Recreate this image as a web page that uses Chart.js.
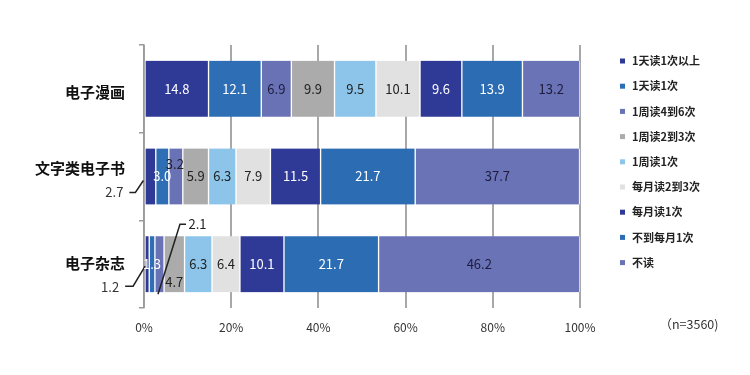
<!DOCTYPE html>
<html>
<head>
<meta charset="utf-8">
<script src="https://cdn.jsdelivr.net/npm/chart.js@4/dist/chart.umd.min.js"></script>
<style>
  html, body { margin: 0; padding: 0; background: #fff; }
  #wrap { width: 750px; height: 375px; }
</style>
</head>
<body>
<div id="wrap"><canvas id="readChart" width="750" height="375"></canvas></div>
<script>
const categories = ['电子漫画', '文字类电子书', '电子杂志'];
const frequencyLabels = ['1天读1次以上', '1天读1次', '1周读4到6次', '1周读2到3次', '1周读1次', '每月读2到3次', '每月读1次', '不到每月1次', '不读'];
const comicValues = [14.8, 12.1, 6.9, 9.9, 9.5, 10.1, 9.6, 13.9, 13.2];
const ebookValues = [2.7, 3.0, 3.2, 5.9, 6.3, 7.9, 11.5, 21.7, 37.7];
const magazineValues = [1.2, 1.3, 2.1, 4.7, 6.3, 6.4, 10.1, 21.7, 46.2];
const xTicks = [0, 20, 40, 60, 80, 100];
const sampleNote = '（n=3560)';

const colors = ['#2F3A97', '#2E6EB5', '#6A72B6', '#ABABAB', '#8DC4EA', '#E1E1E1', '#2F3A97', '#2C6CB3', '#6B73B7'];
const labelColors = ['#fff', '#fff', '#1c1c3c', '#222', '#222', '#222', '#fff', '#fff', '#1c1c3c'];

const FONT = '"Noto Sans CJK SC", "Noto Sans", sans-serif';

// category names sit a little off the bar centre in the original
const categoryShift = [3, -8, -1];

// small segments get moved labels / leader lines (offsets from segment centre)
const labelTweaks = {
  '1-0': { dx: -36, dy: 16, color: '#333', line: [[-21, 16], [-15, 16], [-7, 4]] },
  '1-2': { dx: -1, dy: -12, color: '#222' },
  '2-0': { dx: -37, dy: 23, color: '#333', line: [[-22, 22], [-14, 22], [-2, 2]] },
  '2-2': { dx: 38, dy: -40, color: '#222', line: [[-1.5, 30], [20.5, -40], [26.5, -40]] },
  '2-3': { dx: 0, dy: 18, color: '#222' }
};

const rows = [comicValues, ebookValues, magazineValues];
const datasets = frequencyLabels.map((label, i) => ({
  label: label,
  data: rows.map(r => r[i]),
  backgroundColor: colors[i],
  borderColor: '#fff',
  borderWidth: { left: 1, right: 1, top: 0, bottom: 0 },
  borderSkipped: false,
  barThickness: 56
}));

const valueLabels = {
  id: 'valueLabels',
  afterDatasetsDraw(chart) {
    const ctx = chart.ctx;
    ctx.save();
    ctx.font = '13px ' + FONT;
    ctx.textAlign = 'center';
    ctx.textBaseline = 'middle';
    chart.data.datasets.forEach((ds, di) => {
      chart.getDatasetMeta(di).data.forEach((bar, ri) => {
        const v = ds.data[ri];
        const tw = labelTweaks[ri + '-' + di];
        let x = bar.x - (bar.x - bar.base) / 2;
        let y = bar.y;
        if (tw && tw.line) {
          ctx.strokeStyle = '#222';
          ctx.lineWidth = 1.5;
          ctx.beginPath();
          tw.line.forEach((p, k) => {
            if (k === 0) ctx.moveTo(x + p[0], y + p[1]);
            else ctx.lineTo(x + p[0], y + p[1]);
          });
          ctx.stroke();
        }
        ctx.fillStyle = tw ? tw.color : labelColors[di];
        ctx.fillText(v.toFixed(1), x + (tw ? tw.dx : 0), y + (tw ? tw.dy : 0));
      });
    });

    // category names
    const yScale = chart.scales.y;
    ctx.font = 'bold 15px ' + FONT;
    ctx.fillStyle = '#111';
    ctx.textAlign = 'right';
    categories.forEach((c, i) => {
      ctx.fillText(c, 125, yScale.getPixelForValue(i) + categoryShift[i]);
    });
    ctx.restore();
  }
};

const sideLegend = {
  id: 'sideLegend',
  afterDraw(chart) {
    const ctx = chart.ctx;
    ctx.save();
    ctx.font = 'bold 11px ' + FONT;
    ctx.textBaseline = 'middle';
    ctx.textAlign = 'left';
    frequencyLabels.forEach((label, i) => {
      const y = 61 + i * 25.2;
      ctx.fillStyle = colors[i];
      ctx.fillRect(620, y - 2.5, 5, 5);
      ctx.fillStyle = '#222';
      ctx.fillText(label, 632, y);
    });
    ctx.font = '12.5px ' + FONT;
    ctx.fillStyle = '#333';
    ctx.textAlign = 'center';
    ctx.fillText(sampleNote, 689, 324);
    ctx.restore();
  }
};

new Chart(document.getElementById('readChart'), {
  type: 'bar',
  data: { labels: categories, datasets: datasets },
  options: {
    indexAxis: 'y',
    responsive: false,
    animation: false,
    layout: { padding: { top: 45, right: 170, bottom: 0, left: 0 } },
    plugins: {
      legend: { display: false },
      tooltip: { enabled: false }
    },
    scales: {
      x: {
        stacked: true,
        min: 0,
        max: 100,
        afterBuildTicks: (scale) => { scale.ticks = xTicks.map(v => ({ value: v })); },
        afterFit: (scale) => { scale.height = 67; },
        grid: { color: '#A8A8A8', lineWidth: 2, drawTicks: false },
        border: { display: false },
        ticks: {
          padding: 12,
          color: '#333',
          font: { size: 12, family: FONT },
          callback: v => v + '%'
        }
      },
      y: {
        stacked: true,
        afterFit: (scale) => { scale.width = 144; },
        grid: { offset: true, drawOnChartArea: false, color: '#9a9a9a', lineWidth: 1.5, tickLength: 5 },
        border: { display: true, color: '#9a9a9a', width: 1.5 },
        ticks: { display: false }
      }
    }
  },
  plugins: [valueLabels, sideLegend]
});
</script>
</body>
</html>
